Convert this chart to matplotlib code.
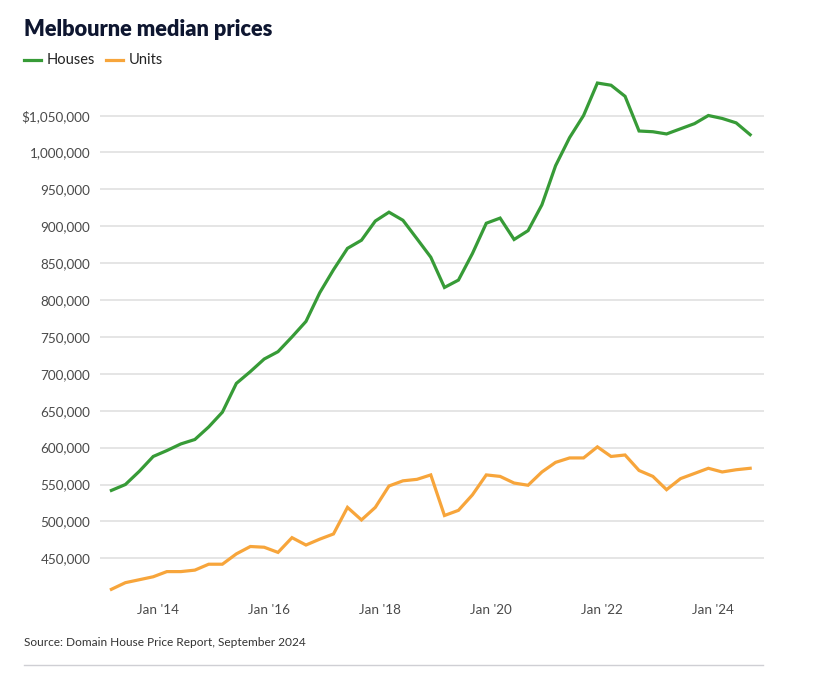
import datetime as dt
import matplotlib
matplotlib.use("Agg")
import matplotlib.pyplot as plt
import matplotlib.dates as mdates
from matplotlib.ticker import FuncFormatter

plt.rcParams['font.family'] = ['Lato', 'DejaVu Sans']

# quarterly medians, Mar 2013 .. Sep 2024
start_year, start_month = 2013, 3
houses = [542000, 550000, 568000, 588000, 596000, 605000, 611000, 628000,
          648000, 687000, 703000, 720000, 730000, 750000, 771000, 810000,
          841000, 870000, 881000, 907000, 919000, 908000, 883000, 858000,
          817000, 827000, 863000, 904000, 911000, 882000, 894000, 929000,
          982000, 1020000, 1050000, 1094000, 1091000, 1076000, 1029000, 1028000,
          1025000, 1032000, 1039000, 1050000, 1046000, 1040000, 1024000]
units = [408000, 417000, 421000, 425000, 432000, 432000, 434000, 442000,
         442000, 456000, 466000, 465000, 458000, 478000, 468000, 476000,
         483000, 519000, 502000, 519000, 548000, 555000, 557000, 563000,
         508000, 515000, 536000, 563000, 561000, 552000, 549000, 567000,
         580000, 586000, 586000, 601000, 588000, 590000, 569000, 561000,
         543000, 558000, 565000, 572000, 567000, 570000, 572000]
yticks = list(range(450000, 1050001, 50000))
xtick_years = [2014, 2016, 2018, 2020, 2022, 2024]

dates = []
for i in range(len(houses)):
    m = start_month - 1 + 3 * i
    dates.append(dt.date(start_year + m // 12, m % 12 + 1, 1))

fig = plt.figure(figsize=(8.38, 6.81), dpi=100)
ax = fig.add_axes([100 / 838, 1 - 593 / 681, 664 / 838, (593 - 78.6) / 681])

green = '#379b37'
orange = '#f7a53b'
ax.plot(dates, houses, color=green, lw=2.3, solid_joinstyle='miter', zorder=3)
ax.plot(dates, units, color=orange, lw=2.3, solid_joinstyle='miter', zorder=3)

ax.set_ylim(403000, 1100000)
ax.set_xlim(dt.date(2012, 12, 16), dt.date(2024, 12, 1))
ax.set_yticks(yticks)
ax.yaxis.set_major_formatter(FuncFormatter(
    lambda v, p: ('$' if v == yticks[-1] else '') + f'{int(v):,}'))
ax.set_xticks([dt.date(y, 1, 1) for y in xtick_years])
ax.xaxis.set_major_formatter(mdates.DateFormatter("Jan '%y"))

ax.grid(axis='y', color='#e3e3e3', lw=1.3)
ax.set_axisbelow(True)
for s in ax.spines.values():
    s.set_visible(False)
ax.tick_params(axis='both', length=0, labelsize=9.7, colors='#4a4a4a')
ax.tick_params(axis='y', pad=7)
ax.tick_params(axis='x', pad=8)

fig.text(24 / 838, 1 - 29 / 681, 'Melbourne median prices', fontsize=15.7,
         fontweight='heavy', color='#0e1630', va='center', ha='left')

# legend
ly = 1 - 60 / 681
fig.add_artist(plt.Line2D([24 / 838, 41 / 838], [ly, ly], color=green, lw=2.3))
fig.text(47 / 838, ly, 'Houses', fontsize=10.5, color='#222222', va='center')
fig.add_artist(plt.Line2D([106 / 838, 123 / 838], [ly, ly], color=orange, lw=2.3))
fig.text(129 / 838, ly, 'Units', fontsize=10.5, color='#222222', va='center')

fig.text(24 / 838, 1 - 643 / 681, 'Source: Domain House Price Report, September 2024',
         fontsize=8.6, color='#333333', va='center')
fig.add_artist(plt.Line2D([24 / 838, 763 / 838], [1 - 665 / 681] * 2,
                          color='#cfcfd4', lw=1))

fig.savefig('out.png', dpi=100)
